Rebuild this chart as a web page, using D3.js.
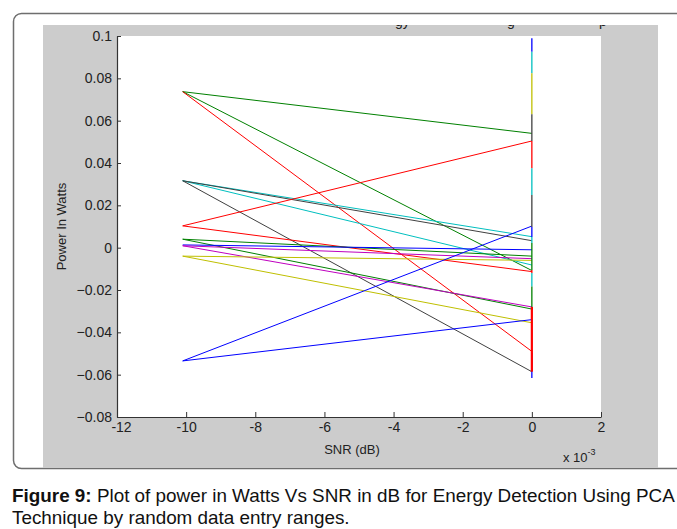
<!DOCTYPE html>
<html>
<head>
<meta charset="utf-8">
<script src="https://cdn.jsdelivr.net/npm/d3@7"></script>
<style>
  body { margin: 0; background: #fff; }
  svg { display: block; font-family: "Liberation Sans", Arial, sans-serif; }
</style>
</head>
<body>
<svg id="chart" width="677" height="529"></svg>
<script>
// Line colours (MATLAB default cycle), left point at x = -10.1e-3, right point at x = 0
const lineColors = ["g", "g", "r", "c", "c", "k", "k", "r", "r", "g", "g", "b", "m", "m", "y", "y", "b", "b"];
const leftPower  = [0.0737, 0.0737, 0.0737, 0.0316, 0.0316, 0.0316, 0.0316, 0.0103, 0.0103,
                    0.0040, 0.0040, 0.0013, 0.0009, 0.0009, -0.0040, -0.0040, -0.0535, -0.0535];
const rightPower = [0.0540, -0.0108, -0.0490, 0.0052, -0.0082, 0.0033, -0.0586, 0.0504, -0.0113,
                    -0.0040, -0.0290, -0.0010, -0.0052, -0.0280, -0.0060, -0.0355, 0.0102, -0.0340];
const snrLeft = -0.0101;
const snrRight = 0;

// Segments stacked on the x = 0 line
const segColors = ["b", "c", "y", "k", "r", "c", "k", "b", "c", "g", "r", "c", "g", "b", "r"];
const segTop    = [0.0989, 0.0926, 0.0824, 0.0630, 0.0504, 0.0375, 0.0249, 0.0098, 0.0050, 0.0022, -0.0105, -0.0120, -0.0184, -0.0497, -0.0280];
const segBottom = [0.0926, 0.0824, 0.0630, 0.0504, 0.0375, 0.0249, 0.0098, 0.0050, 0.0022, -0.0105, -0.0120, -0.0184, -0.0294, -0.0616, -0.0586];

const xTicks = [-12, -10, -8, -6, -4, -2, 0, 2];
const yTicks = [-0.08, -0.06, -0.04, -0.02, 0, 0.02, 0.04, 0.06, 0.08, 0.1];

const matlab = { b: "#0000ff", g: "#008000", r: "#ff0000", c: "#00bfbf", m: "#bf00bf", y: "#bfbf00", k: "#404040" };

const svg = d3.select("#chart");

// Outer frame and grey figure background
svg.append("rect")
  .attr("x", 13.5).attr("y", 13.5)
  .attr("width", 720).attr("height", 455)
  .attr("rx", 8)
  .attr("fill", "none")
  .attr("stroke", "#6e6e6e")
  .attr("stroke-width", 1.5);

svg.append("rect")
  .attr("x", 43).attr("y", 25)
  .attr("width", 615).attr("height", 443)
  .attr("fill", "#cccccc");

// Title is cut off by the crop, only descenders show
svg.append("clipPath").attr("id", "titleClip")
  .append("rect").attr("x", 43).attr("y", 25).attr("width", 615).attr("height", 12);

const titleG = svg.append("g").attr("clip-path", "url(#titleClip)");
[["gy", 395], ["g", 507], ["p", 599]].forEach(([t, x]) => {
  titleG.append("text")
    .attr("x", x).attr("y", 25.5)
    .attr("font-size", "14px")
    .attr("fill", "#222")
    .text(t);
});

// Plot area
const x = d3.scaleLinear().domain([-12e-3, 2e-3]).range([117, 601]);
const y = d3.scaleLinear().domain([-0.08, 0.1]).range([417, 36]);

svg.append("rect")
  .attr("x", x(-12e-3)).attr("y", y(0.1))
  .attr("width", x(2e-3) - x(-12e-3))
  .attr("height", y(-0.08) - y(0.1))
  .attr("fill", "#fff");

// Lines from left point to right point
const lineData = lineColors.map((c, i) => ({ c, y0: leftPower[i], y1: rightPower[i] }));

svg.append("g")
  .selectAll("line")
  .data(lineData)
  .join("line")
  .attr("x1", x(snrLeft))
  .attr("y1", (d) => y(d.y0))
  .attr("x2", x(snrRight))
  .attr("y2", (d) => y(d.y1))
  .attr("stroke", (d) => matlab[d.c])
  .attr("stroke-width", 1);

// Vertical pieces at x = 0
const segData = segColors.map((c, i) => ({ c, top: segTop[i], bottom: segBottom[i] }));

svg.append("g")
  .selectAll("line")
  .data(segData)
  .join("line")
  .attr("x1", x(snrRight))
  .attr("x2", x(snrRight))
  .attr("y1", (d) => y(d.top))
  .attr("y2", (d) => y(d.bottom))
  .attr("stroke", (d) => matlab[d.c])
  .attr("stroke-width", (d, i) => (i === segData.length - 1 ? 2.2 : 1.3));

// Axes, ticks pointing inward
const yAxis = svg.append("g")
  .attr("transform", `translate(${x(-12e-3)},0)`)
  .call(
    d3.axisLeft(y)
      .tickValues(yTicks)
      .tickSizeInner(-4)
      .tickSizeOuter(0)
      .tickPadding(5)
      .tickFormat((d) => (d === 0 ? "0" : d3.format("")(+d.toFixed(2))))
  );

const xAxis = svg.append("g")
  .attr("transform", `translate(0,${y(-0.08)})`)
  .call(
    d3.axisBottom(x)
      .tickValues(xTicks.map((t) => t * 1e-3))
      .tickSizeInner(-5)
      .tickSizeOuter(0)
      .tickPadding(5)
      .tickFormat((d) => String(Math.round(d * 1e3)))
  );

[yAxis, xAxis].forEach((g) => {
  g.select(".domain").attr("stroke", "#333").attr("stroke-width", 1.2);
  g.selectAll(".tick line").attr("stroke", "#333");
  g.selectAll(".tick text")
    .attr("fill", "#222")
    .attr("font-size", "14px")
    .attr("font-family", "Liberation Sans, Arial, sans-serif");
});

// MATLAB nudges the first x label away from the corner
xAxis.selectAll(".tick text").filter((d, i) => i === 0).attr("dx", 4);

// Axis labels
svg.append("text")
  .attr("transform", `translate(66, ${y(0.01)}) rotate(-90)`)
  .attr("text-anchor", "middle")
  .attr("font-size", "13px")
  .attr("fill", "#222")
  .text("Power In Watts");

svg.append("text")
  .attr("x", 352).attr("y", 454)
  .attr("text-anchor", "middle")
  .attr("font-size", "13px")
  .attr("fill", "#222")
  .text("SNR (dB)");

const mult = svg.append("text")
  .attr("x", 563).attr("y", 462)
  .attr("font-size", "13px")
  .attr("fill", "#222");
mult.append("tspan").text("x 10");
mult.append("tspan").attr("dy", -7).attr("font-size", "9px").text("-3");

// Caption
const cap1 = svg.append("text")
  .attr("x", 12).attr("y", 502)
  .attr("font-size", "17px")
  .attr("fill", "#111");
cap1.append("tspan").attr("font-weight", "bold").text("Figure 9:");
cap1.append("tspan").text(" Plot of power in Watts Vs SNR in dB for Energy Detection Using PCA");

const cap2 = svg.append("text")
  .attr("x", 12).attr("y", 524)
  .attr("font-size", "17px")
  .attr("fill", "#111")
  .text("Technique by random data entry ranges.");

// fit caption to the width it has in the figure
const w = cap1.node().getComputedTextLength();
const k = 663 / w;
cap1.attr("font-size", `${17 * k}px`);
cap2.attr("font-size", `${17 * k}px`);
</script>
</body>
</html>
